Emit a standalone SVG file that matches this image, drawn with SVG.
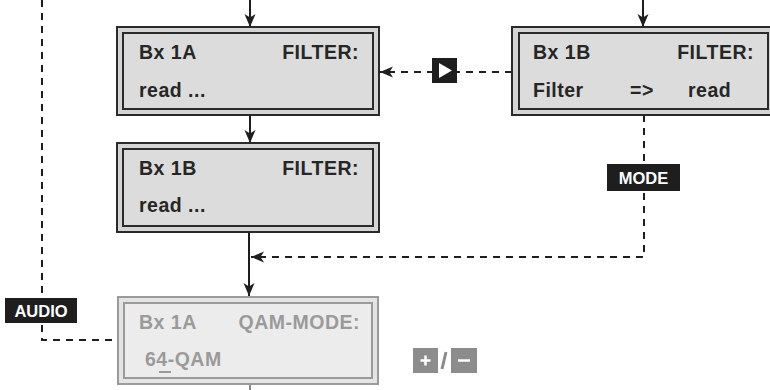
<svg xmlns="http://www.w3.org/2000/svg" width="770" height="390" viewBox="0 0 770 390">
<defs>
<marker id="ah" markerUnits="userSpaceOnUse" markerWidth="14" markerHeight="12" refX="13" refY="6" orient="auto">
<path d="M0,0.5 L13,6 L0,11.5 L3.5,6 Z" fill="#1e1e1e"/>
</marker>
<style>
.out{fill:#d4d4d4;stroke:#2a2a2a;stroke-width:2}
.in{fill:#dcdcdc;stroke:#2a2a2a;stroke-width:2}
.gout{fill:#e4e4e4;stroke:#9a9a9a;stroke-width:2}
.gin{fill:#ececec;stroke:#9a9a9a;stroke-width:2}
.t{font-family:"Liberation Sans",Arial,sans-serif;font-weight:bold;font-size:19.5px;letter-spacing:0.5px;fill:#262626}
.g{fill:#9a9a9a}
.e{text-anchor:end}
.solid{fill:none;stroke:#1e1e1e;stroke-width:2}
.dash{fill:none;stroke:#1e1e1e;stroke-width:2;stroke-dasharray:7,6}
.lbl{font-family:"Liberation Sans",Arial,sans-serif;font-weight:bold;font-size:16.5px;fill:#ffffff;text-anchor:middle}
</style>
</defs>

<g id="connectors">
<line class="solid" x1="250" y1="0" x2="250" y2="27" marker-end="url(#ah)"/>
<line class="solid" x1="643" y1="0" x2="643" y2="27" marker-end="url(#ah)"/>
<line class="solid" x1="250" y1="115" x2="250" y2="143" marker-end="url(#ah)"/>
<line class="solid" x1="249" y1="232" x2="249" y2="296" marker-end="url(#ah)"/>
<line x1="250" y1="385" x2="250" y2="390" stroke="#8a8a8a" stroke-width="2"/>
<line class="dash" x1="512" y1="72" x2="380" y2="72" marker-end="url(#ah)"/>
<path class="dash" d="M644,115 V257 H251" marker-end="url(#ah)"/>
<path class="dash" d="M42,0 V340 H118"/>
</g>

<g id="box-1a-filter">
<rect class="out" x="117" y="27" width="262" height="88"/>
<rect class="in" x="123" y="33" width="250" height="76"/>
<text class="t" x="139" y="59">Bx 1A</text>
<text class="t e" x="359" y="59">FILTER:</text>
<text class="t" x="139" y="97">read ...</text>
</g>

<g id="box-1b-filter-read">
<rect class="out" x="512" y="27" width="262" height="88"/>
<rect class="in" x="519" y="33" width="249" height="76"/>
<text class="t" x="533" y="59">Bx 1B</text>
<text class="t e" x="754" y="59">FILTER:</text>
<text class="t" x="533" y="97">Filter</text>
<text class="t" x="630" y="97">=&gt;</text>
<text class="t" x="688" y="97">read</text>
</g>

<g id="box-1b-filter">
<rect class="out" x="117" y="143" width="262" height="89"/>
<rect class="in" x="123" y="149" width="250" height="77"/>
<text class="t" x="139" y="175">Bx 1B</text>
<text class="t e" x="359" y="175">FILTER:</text>
<text class="t" x="139" y="212">read ...</text>
</g>

<g id="box-qam-mode">
<rect class="gout" x="118" y="297" width="260" height="87"/>
<rect class="gin" x="124" y="303" width="248" height="75"/>
<text class="t g" x="139" y="329">Bx 1A</text>
<text class="t g e" x="360" y="329">QAM-MODE:</text>
<text class="t g" x="145" y="366">64-QAM</text>
<line x1="159" y1="372" x2="171" y2="372" stroke="#9a9a9a" stroke-width="2"/>
</g>

<g id="key-right">
<rect x="432" y="58" width="25" height="25" fill="#1e1e1e"/>
<path d="M439,63 L452,70.5 L439,78 Z" fill="#ffffff"/>
</g>

<g id="key-mode">
<rect x="607" y="164" width="73" height="27" fill="#1e1e1e"/>
<text class="lbl" x="643.5" y="183.5">MODE</text>
</g>

<g id="key-audio">
<rect x="5" y="298" width="72" height="25" fill="#1e1e1e"/>
<text class="lbl" x="41" y="316.5">AUDIO</text>
</g>

<g id="key-plus-minus">
<rect x="413" y="348" width="25" height="25" fill="#8c8c8c"/>
<path d="M420.5,360.5 H430.5 M425.5,355.5 V365.5" stroke="#ffffff" stroke-width="2.5"/>
<path d="M446,352 L442,369" stroke="#8c8c8c" stroke-width="3"/>
<rect x="451" y="348" width="26" height="25" fill="#8c8c8c"/>
<path d="M458,360.5 H470" stroke="#ffffff" stroke-width="2.5"/>
</g>
</svg>
